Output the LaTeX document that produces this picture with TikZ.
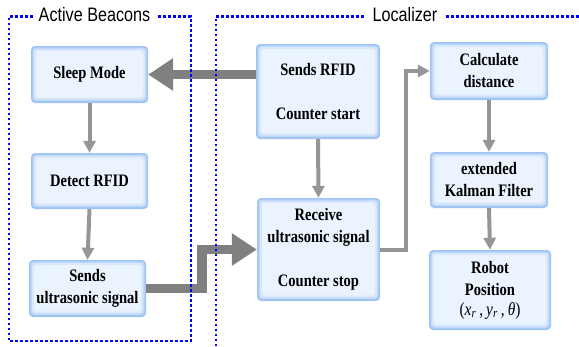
\documentclass[tikz,border=0pt]{standalone}
\usepackage{fontspec}
\setmainfont{Liberation Serif}
\newfontfamily\boxfont[FakeStretch=0.83]{Liberation Serif}
\newfontfamily\framefont[FakeStretch=0.83]{Liberation Sans}
\usetikzlibrary{arrows.meta}

\definecolor{frameblue}{RGB}{0,0,255}
\definecolor{bigarrow}{RGB}{128,128,128}
\definecolor{smallarrow}{RGB}{150,150,150}
\definecolor{boxA}{RGB}{160,196,242}
\definecolor{boxB}{RGB}{192,216,248}
\definecolor{boxC}{RGB}{216,232,252}
\definecolor{boxD}{RGB}{234,243,254}

\tikzset{
  stagebox/.style={
    rounded corners=4pt, fill=boxA, inner sep=0pt, align=center,
    font=\boxfont\bfseries\fontsize{17.5}{22}\selectfont,
    path picture={
      \fill[boxB, rounded corners=3.5pt]
        ([shift={(1.5pt,-1.5pt)}]path picture bounding box.north west) rectangle
        ([shift={(-1.5pt,2pt)}]path picture bounding box.south east);
      \fill[boxC, rounded corners=3pt]
        ([shift={(3pt,-3pt)}]path picture bounding box.north west) rectangle
        ([shift={(-3pt,3.5pt)}]path picture bounding box.south east);
      \fill[boxD, rounded corners=3pt]
        ([shift={(5pt,-5pt)}]path picture bounding box.north west) rectangle
        ([shift={(-5pt,5.5pt)}]path picture bounding box.south east);
    }},
  framedots/.style={frameblue, line width=2.8pt, dash pattern=on 2.8pt off 2.2pt},
  frametitle/.style={font=\framefont\fontsize{19.5}{22}\selectfont, inner sep=0pt},
  thinflow/.style={smallarrow, line width=4pt,
    -{Triangle[width=12pt,length=12pt]}},
  thickflow/.style={bigarrow, line width=9.5pt, line join=miter,
    -{Triangle[width=31pt,length=25pt]}},
}

\begin{document}
\begin{tikzpicture}[x=1pt, y=-1pt]
  \useasboundingbox (0,0) rectangle (579,346);
  \fill[white] (0,0) rectangle (579,346);

  % Active beacon stages
  \node[stagebox, minimum width=117pt, minimum height=57pt] (sleep) at (89.5,74.5) {Sleep Mode};
  \node[stagebox, minimum width=117pt, minimum height=56pt] (detect) at (89.5,181) {Detect RFID};
  \node[stagebox, minimum width=117pt, minimum height=57pt] (sendus) at (87.5,288.5) {Sends\\ultrasonic signal};

  % Localizer stages
  \node[stagebox, minimum width=124pt, minimum height=95pt] (sendrfid) at (318,91.5) {Sends RFID\\[22pt]Counter start};
  \node[stagebox, minimum width=123pt, minimum height=103pt] (receive) at (318.5,249.5) {Receive\\ultrasonic signal\\[22pt]Counter stop};
  \node[stagebox, minimum width=118pt, minimum height=58pt] (calc) at (489,71) {Calculate\\distance};
  \node[stagebox, minimum width=118pt, minimum height=56pt] (ekf) at (489,180) {extended\\Kalman Filter};
  \node[stagebox, minimum width=122pt, minimum height=80pt] (robot) at (490,290)
    {Robot\\Position\\[-2pt]{\mdseries\fontsize{18.5}{22}\selectfont(\textit{x}\textsubscript{\textit{r}}\,,\,\textit{y}\textsubscript{\textit{r}}\,,\,\textit{θ})}};

  % thin flow arrows
  \draw[thinflow] (sleep.south) -- (detect.north);
  \draw[thinflow] (detect.south) -- (sendus.north);
  \draw[thinflow] (sendrfid.south) -- (receive.north);
  \draw[thinflow] (calc.south) -- (ekf.north);
  \draw[thinflow] (ekf.south) -- (robot.north);
  \draw[thinflow, line join=miter] (receive.east) -- ++(26,0) |- (calc.west);

  % thick signal arrows between the two units
  \draw[thickflow] (sendrfid.west |- sleep.east) -- (sleep.east);
  \draw[thickflow] (sendus.east) -- (202,288.5) |- (receive.west);

  % dotted frames with titles
  \node[frametitle] (beacons) at (94.5,15) {Active Beacons};
  \node[frametitle] (localizer) at (405,15) {Localizer};
  \draw[framedots] (33,16.5) -- (9,16.5) -- (9,341) -- (191,341) -- (191,16.5) -- (157,16.5);
  \draw[framedots] (364,16.5) -- (216,16.5) -- (216,346);
  \draw[framedots] (446,16.5) -- (579,16.5);
\end{tikzpicture}
\end{document}
